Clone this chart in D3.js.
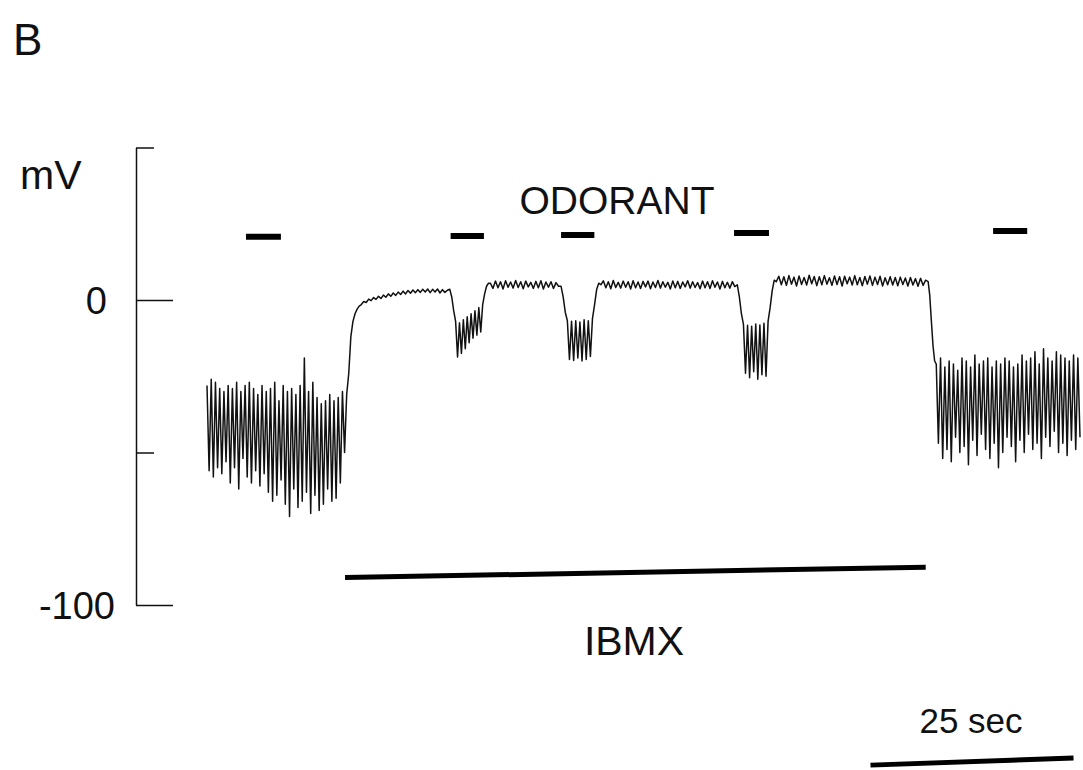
<!DOCTYPE html>
<html>
<head>
<meta charset="utf-8">
<script src="https://cdn.jsdelivr.net/npm/d3@7"></script>
<style>
  body { margin: 0; background: #fff; }
  svg text { font-family: "Liberation Sans", Arial, sans-serif; fill: #111; }
</style>
</head>
<body>
<div id="chart"></div>
<script>
// membrane potential trace (mV), split in segments; each segment spans segTimes[i]..segTimes[i+1] (sec)
var segTimes = [0, 17.2, 19.0, 29.9, 34.9, 43.6, 48.5, 65.3, 70.1, 88.8, 89.8, 107.5];

var preSpikes = [-28,-56,-26,-58,-27,-55,-29,-57,-30,-53,-28,-60,-29,-55,-27,-62,-30,-52,-28,-58,
  -27,-60,-29,-56,-31,-61,-28,-57,-30,-63,-29,-66,-27,-64,-33,-59,-28,-67,-30,-71,
  -29,-62,-31,-68,-28,-66,-19,-63,-30,-70,-27,-64,-32,-69,-34,-67,-33,-62,-31,-66,
  -33,-65,-32,-60,-30,-50];
var rise = [-31, -24, -12, -7, -4.5, -3, -2];
var plateau1 = [-1.5,-0.5,-0.8,0.3,-0.2,0.8,0.2,1.2,0.5,1.6,0.9,2.0,1.2,2.3,1.5,2.6,1.8,2.9,2.0,3.1,
  2.2,3.3,2.4,3.4,2.5,3.5,2.6,3.6,2.4,3.5,2.6,3.6,2.3,3.4,2.5,3.2];
var dip1 = [3.5,1.0,-3.5,-7.0,-18.7,-7.5,-17.5,-6.5,-16.0,-5.5,-14.0,-4.5,-12.5,-3.5,-11.5,-2.5,-10.5,-1.5,2.0,4.5,5.5];
var plateau2 = [5.5,3.8,6.2,4.0,6.0,3.6,6.3,4.2,5.9,3.9,6.4,4.1,6.0,3.7,6.2,4.3,5.8,3.8,6.1,4.0,
  6.3,3.6,5.9,4.2,6.0,3.8,5.7,4.5];
var dip2 = [4.5,1.0,-4.0,-6.8,-19.5,-7.0,-19.8,-6.8,-19.0,-7.2,-20.0,-6.5,-19.5,-6.8,-18.5,-6.0,-1.5,3.5,5.5];
var plateau3 = [5.0,6.3,4.0,6.0,3.7,6.4,4.1,5.8,3.9,6.2,4.2,6.0,3.6,6.3,4.0,5.9,3.8,6.1,4.3,6.2,
  3.7,5.9,4.1,6.4,3.9,6.0,4.2,5.8,3.6,6.2,4.0,6.1,3.8,5.9,4.3,6.3,3.9,6.0,4.1,5.7,
  3.7,6.2,4.0,6.0,3.8,6.3,4.2,5.9,3.6,6.1,4.0,5.8,3.9,6.0,4.4];
var dip3 = [5.0,1.0,-4.5,-8.0,-24.0,-8.3,-25.5,-8.6,-23.5,-7.9,-26.0,-8.2,-24.5,-7.6,-25.0,-7.0,-2.5,3.0,6.5];
var plateau4 = [6.0,7.8,5.0,7.6,4.8,8.0,5.2,7.5,4.6,7.9,5.1,7.4,4.9,8.1,5.3,7.7,4.7,7.6,5.0,8.0,
  5.2,7.3,4.8,7.9,5.1,7.6,4.6,7.8,5.3,7.5,4.9,8.0,5.0,7.4,4.7,7.7,5.2,7.9,4.8,7.5,
  5.1,7.8,4.6,7.3,5.0,7.6,4.9,7.4,4.7,7.5,5.1,7.2,4.6,7.4,4.9,7.0,4.5,7.1,4.8,6.5];
var fall = [6.0, 1.5, -7.0, -15.0, -20.0];
var postSpikes = [-21,-47,-19,-52,-22,-49,-20,-53,-21,-45,-23,-50,-19,-48,-20,-54,-22,-46,-18,-51,
  -21,-44,-20,-49,-19,-52,-22,-47,-20,-55,-21,-50,-19,-45,-20,-48,-22,-53,-21,-46,
  -18,-50,-20,-44,-19,-49,-17,-47,-21,-52,-16,-45,-19,-48,-20,-43,-17,-50,-18,-47,
  -19,-51,-20,-46,-18,-49,-19,-45];

var segments = [preSpikes, rise, plateau1, dip1, plateau2, dip2, plateau3, dip3, plateau4, fall, postSpikes];

// odorant pulses [start, end] (sec) and their drawn level (mV)
var odorStart = [4.8, 30.0, 43.6, 64.9, 96.8];
var odorEnd = [9.1, 34.1, 47.7, 69.2, 101.0];
var odorLevel = [20.7, 21.0, 21.3, 22.0, 22.6];

// IBMX application bar
var ibmxTimes = [17.0, 88.5];
var ibmxLevel = [-91.0, -87.6];

// 25 sec scale bar
var scaleTimes = [81.7, 106.7];
var scaleLevel = [-152.5, -150.2];

var yTicks = [50, 0, -50, -100];
var yTickLabels = {"0": "0", "-100": "-100"};

var svgWidth = 1083;
var svgHeight = 770;

var svg = d3.select("#chart")
  .append("svg")
  .attr("width", svgWidth)
  .attr("height", svgHeight);

var x = d3.scaleLinear().domain([0, 107.5]).range([207, 1080]);
var y = d3.scaleLinear().domain([-100, 50]).range([605, 147.5]);

// build trace points
var trace = [];
segments.forEach(function(vals, i) {
  var t0 = segTimes[i], t1 = segTimes[i + 1];
  var last = i === segments.length - 1;
  var n = last ? vals.length - 1 : vals.length;
  vals.forEach(function(v, k) {
    trace.push({t: t0 + (t1 - t0) * k / n, v: v});
  });
});

var line = d3.line()
  .x(d => x(d.t))
  .y(d => y(d.v));

svg.append("path")
  .datum(trace)
  .attr("fill", "none")
  .attr("stroke", "#111")
  .attr("stroke-width", 1.5)
  .attr("stroke-linejoin", "round")
  .attr("d", line);

// y axis (ticks point into the plot)
var axis = svg.append("g")
  .attr("transform", "translate(136,0)")
  .call(d3.axisRight(y)
    .tickValues(yTicks)
    .tickSize(37)
    .tickSizeOuter(0)
    .tickFormat(d => yTickLabels[d] || ""));

axis.select(".domain").attr("stroke", "#111").attr("stroke-width", 1.5);
axis.selectAll(".tick line")
  .attr("stroke", "#111")
  .attr("stroke-width", 1.5)
  .attr("x2", d => (d === 0 || d === -100) ? 37 : 18);
axis.selectAll(".tick text")
  .attr("x", d => d === 0 ? -29 : -21)
  .attr("dy", "0.36em")
  .attr("text-anchor", "end")
  .style("font-size", "38px")
  .style("fill", "#111");

// odorant pulses
svg.selectAll(".odor")
  .data(odorStart)
  .enter()
  .append("line")
  .attr("class", "odor")
  .attr("x1", d => x(d))
  .attr("x2", (d, i) => x(odorEnd[i]))
  .attr("y1", (d, i) => y(odorLevel[i]))
  .attr("y2", (d, i) => y(odorLevel[i]))
  .attr("stroke", "#000")
  .attr("stroke-width", 6);

svg.append("line")
  .attr("x1", x(ibmxTimes[0]))
  .attr("x2", x(ibmxTimes[1]))
  .attr("y1", y(ibmxLevel[0]))
  .attr("y2", y(ibmxLevel[1]))
  .attr("stroke", "#000")
  .attr("stroke-width", 5);

svg.append("line")
  .attr("x1", x(scaleTimes[0]))
  .attr("x2", x(scaleTimes[1]))
  .attr("y1", y(scaleLevel[0]))
  .attr("y2", y(scaleLevel[1]))
  .attr("stroke", "#000")
  .attr("stroke-width", 5);

// labels
svg.append("text").attr("x", 13).attr("y", 55).style("font-size", "44px").text("B");
svg.append("text").attr("x", 20).attr("y", 189).style("font-size", "41px").text("mV");
svg.append("text").attr("x", 617).attr("y", 214).attr("text-anchor", "middle")
  .style("font-size", "39px").text("ODORANT");
svg.append("text").attr("x", 634).attr("y", 655).attr("text-anchor", "middle")
  .style("font-size", "41px").text("IBMX");
svg.append("text").attr("x", 971).attr("y", 733).attr("text-anchor", "middle")
  .style("font-size", "35px").text("25 sec");
</script>
</body>
</html>
